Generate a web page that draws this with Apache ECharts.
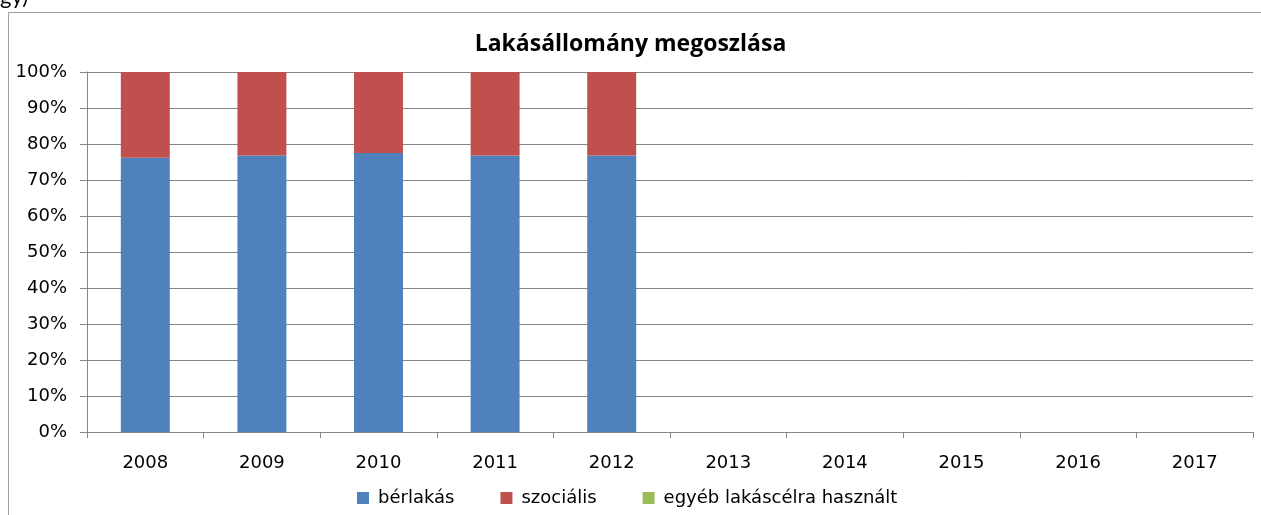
<!DOCTYPE html>
<html>
<head>
<meta charset="utf-8">
<title>Lakásállomány megoszlása</title>
<script src="https://cdn.jsdelivr.net/npm/echarts@6/dist/echarts.min.js"></script>
<style>
  html, body { margin: 0; padding: 0; background: #fff; }
  #chart { width: 1261px; height: 515px; }
</style>
</head>
<body>
<div id="chart"></div>
<script>
// évek (kategóriák)
var years = ["2008", "2009", "2010", "2011", "2012", "2013", "2014", "2015", "2016", "2017"];
// arányok %-ban, leolvasva az ábráról
var berlakas = [76.2, 76.8, 77.5, 76.8, 76.8, null, null, null, null, null];
var szocialis = [23.8, 23.2, 22.5, 23.2, 23.2, null, null, null, null, null];
var egyeb = [0, 0, 0, 0, 0, null, null, null, null, null];
var seriesNames = ["bérlakás", "szociális", "egyéb lakáscélra használt"];
var seriesColors = ["#4F81BD", "#C0504D", "#9BBB59"];

var chart = echarts.init(document.getElementById("chart"));
var axisGray = "#868686";
var labelFont = "DejaVu Sans";

function makeSeries(idx, data) {
  return {
    name: seriesNames[idx],
    type: "bar",
    stack: "total",
    barWidth: "42%",
    data: data,
    itemStyle: { color: seriesColors[idx] },
  };
}

chart.setOption({
  animation: false,
  color: seriesColors,
  title: {
    text: "Lakásállomány megoszlása",
    left: "center",
    top: 28,
    textStyle: {
      fontFamily: "Open Sans",
      fontWeight: "bold",
      fontSize: 23,
      color: "#000",
    },
  },
  graphic: [
    {
      // keret
      type: "polyline",
      shape: { points: [[8.5, 515], [8.5, 12.5], [1261, 12.5]] },
      style: { stroke: "#a0a0a0", lineWidth: 1, fill: null },
    },
    {
      // levágott szöveg a kép tetején
      type: "text",
      left: 0,
      top: -14,
      style: { text: "gy)", fontFamily: "Lato", fontSize: 22, fill: "#000" },
    },
  ],
  legend: {
    data: seriesNames,
    bottom: 3,
    left: 352,
    icon: "rect",
    itemWidth: 12,
    itemHeight: 12,
    itemGap: 46,
    textStyle: { fontFamily: labelFont, fontSize: 18, color: "#000", padding: [0, 0, 0, 4] },
  },
  grid: {
    left: 87,
    right: 8,
    top: 72,
    bottom: 83,
    containLabel: false,
  },
  xAxis: {
    type: "category",
    data: years,
    axisLine: { lineStyle: { color: axisGray } },
    axisTick: { show: true, length: 6, alignWithLabel: false, lineStyle: { color: axisGray } },
    axisLabel: { margin: 22, fontFamily: labelFont, fontSize: 18, color: "#000" },
  },
  yAxis: {
    type: "value",
    min: 0,
    max: 100,
    interval: 10,
    axisLine: { show: true, lineStyle: { color: axisGray } },
    axisTick: { show: true, length: 7, lineStyle: { color: axisGray } },
    splitLine: { show: true, lineStyle: { color: axisGray } },
    axisLabel: {
      formatter: "{value}%",
      margin: 20,
      fontFamily: labelFont,
      fontSize: 18,
      color: "#000",
    },
  },
  series: [makeSeries(0, berlakas), makeSeries(1, szocialis), makeSeries(2, egyeb)],
});
</script>
</body>
</html>
